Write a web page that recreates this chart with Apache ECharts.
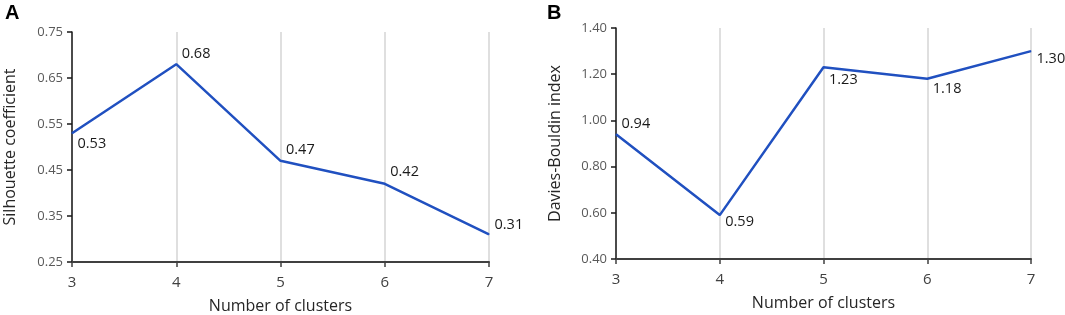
<!DOCTYPE html>
<html>
<head>
<meta charset="utf-8">
<script src="https://cdn.jsdelivr.net/npm/echarts@6/dist/echarts.min.js"></script>
<style>
  html, body { margin: 0; padding: 0; background: #fff; }
  #main { width: 1065px; height: 315px; }
</style>
</head>
<body>
<div id="main"></div>
<script>
// data
var clusters = ['3', '4', '5', '6', '7'];
var silhouette = [0.53, 0.68, 0.47, 0.42, 0.31];
var daviesBouldin = [0.94, 0.59, 1.23, 1.18, 1.30];
var silhouetteTicks = { min: 0.25, max: 0.75, step: 0.1 };
var dbTicks = { min: 0.40, max: 1.40, step: 0.2 };

var FONT = '"Open Sans", "Noto Sans", sans-serif';
var LINE = '#2050C0';

// label offsets per point (above / below the point)
var offA = [[0, 11], [0, -10], [0, -11], [0, -12], [0, -10]];
var offB = [[0, -10], [0, 7], [0, 13], [0, 10], [0, 8]];

function pts(vals, offs, dec) {
  return vals.map(function (v, i) {
    return {
      value: v,
      label: { offset: offs[i], formatter: v.toFixed(dec) }
    };
  });
}

function xAxis(idx) {
  return {
    type: 'category', gridIndex: idx, data: clusters, boundaryGap: false,
    name: 'Number of clusters', nameLocation: 'middle', nameGap: 36,
    nameTextStyle: { fontFamily: FONT, fontSize: 16, color: '#262626' },
    axisLine: { lineStyle: { color: '#404040', width: 2 } },
    axisTick: { show: true, length: 5, lineStyle: { color: '#404040', width: 1.5 } },
    axisLabel: { fontFamily: FONT, fontSize: 15, color: '#404040', margin: 13 },
    splitLine: { show: true, lineStyle: { color: '#d4d4d4', width: 1.5 } }
  };
}

function yAxis(idx, name, t, dec, gap) {
  return {
    type: 'value', gridIndex: idx, min: t.min, max: t.max, interval: t.step,
    name: name, nameLocation: 'middle', nameGap: gap,
    nameTextStyle: { fontFamily: FONT, fontSize: 16, color: '#262626' },
    axisLine: { show: true, lineStyle: { color: '#1a1a1a', width: 1.5 } },
    axisTick: { show: true, length: 5, lineStyle: { color: '#1a1a1a', width: 1.5 } },
    axisLabel: {
      fontFamily: FONT, fontSize: 13, color: '#595959', margin: 9,
      formatter: function (v) { return v.toFixed(dec); }
    },
    splitLine: { show: false }
  };
}

function series(idx, vals, offs) {
  return {
    type: 'line', xAxisIndex: idx, yAxisIndex: idx,
    data: pts(vals, offs, 2),
    symbol: 'circle', symbolSize: 1,
    itemStyle: { color: LINE },
    lineStyle: { color: LINE, width: 2.5 },
    label: {
      show: true, position: 'right', distance: 5,
      fontFamily: FONT, fontSize: 14.5, color: '#1a1a1a'
    },
    animation: false
  };
}

var chart = echarts.init(document.getElementById('main'));
chart.setOption({
  backgroundColor: '#fff',
  animation: false,
  grid: [
    { left: 72, right: 576, top: 32, bottom: 53, containLabel: false, outerBoundsMode: 'none' },
    { left: 616, right: 34, top: 28, bottom: 56, containLabel: false, outerBoundsMode: 'none' }
  ],
  xAxis: [xAxis(0), xAxis(1)],
  yAxis: [
    yAxis(0, 'Silhouette coefficient', silhouetteTicks, 2, 54),
    yAxis(1, 'Davies-Bouldin index', dbTicks, 2, 53)
  ],
  series: [
    series(0, silhouette, offA),
    series(1, daviesBouldin, offB)
  ],
  graphic: [
    { type: 'text', left: 5, top: 3, style: { text: 'A', font: 'bold 20px Arial, "Liberation Sans"', fill: '#000' } },
    { type: 'text', left: 547, top: 3, style: { text: 'B', font: 'bold 20px Arial, "Liberation Sans"', fill: '#000' } }
  ]
});
</script>
</body>
</html>
